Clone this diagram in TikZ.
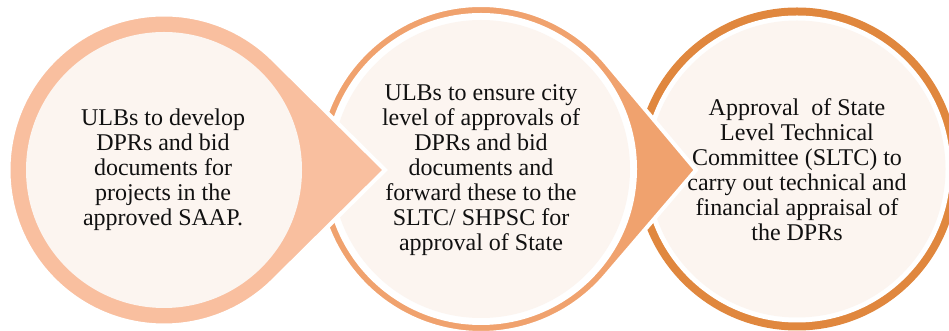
\documentclass[tikz,border=0pt]{standalone}
\usepackage{fontspec}
\setmainfont{Liberation Serif}
\definecolor{ringA}{HTML}{F9BF9F}
\definecolor{ringB}{HTML}{F0A26E}
\definecolor{ringC}{HTML}{E0873E}
\definecolor{innerfill}{HTML}{FCF5F0}
\definecolor{txt}{HTML}{111111}
\tikzset{
  tear/.style={draw=white, line width=4pt, line join=miter},
  inner/.style={fill=innerfill},
  label/.style={align=center, text=txt, inner sep=0pt, font=\fontsize{24}{25}\selectfont}
}
\begin{document}
\begin{tikzpicture}[x=1pt,y=1pt]
\useasboundingbox (0,0) rectangle (949,331);
\clip (0,0) rectangle (949,331);
\fill[white] (0,0) rectangle (949,331);
% circle 3
\fill[ringC] (797,162) circle[radius=161.5];
\fill[white] (797,162) circle[radius=153.5];
\fill[inner] (797,162) circle[radius=148.5];
\node[label] (t3) at (797,161) {Approval~ of State\\Level Technical\\Committee (SLTC) to\\carry out technical and\\financial appraisal of\\the DPRs};
% shape 2
\filldraw[tear, fill=ringB] (481,162) ++(40.29:164) arc[start angle=40.29, end angle=319.71, radius=164] -- (696,161) -- cycle;
\fill[white] (481,162) circle[radius=156];
\fill[inner] (481,162) circle[radius=149];
\node[label] (t2) at (481,161) {ULBs to ensure city\\level of approvals of\\DPRs and bid\\documents and\\forward these to the\\SLTC/ SHPSC for\\approval of State};
% shape 1
\filldraw[tear, fill=ringA] (164,161) ++(45.28:155.5) arc[start angle=45.28, end angle=314.72, radius=155.5] -- (385,161) -- cycle;
\fill[inner] (164,161) circle[radius=138];
\node[label] (t1) at (163,161) {ULBs to develop\\DPRs and bid\\documents for\\projects in the\\approved SAAP.};
\end{tikzpicture}
\end{document}
